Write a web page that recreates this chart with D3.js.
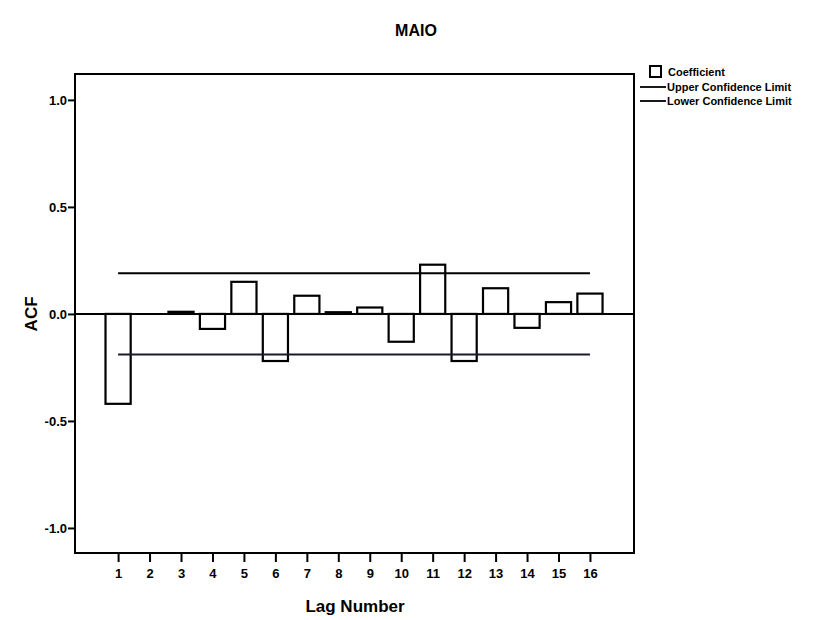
<!DOCTYPE html>
<html>
<head>
<meta charset="utf-8">
<script src="https://cdn.jsdelivr.net/npm/d3@7/dist/d3.min.js"></script>
<style>
  body { margin: 0; background: #fff; }
  text { font-family: "Liberation Sans", Arial, sans-serif; font-weight: bold; fill: #000; }
</style>
</head>
<body>
<svg id="canvas"></svg>
<script>
// ACF coefficients per lag
let lags = [1, 2, 3, 4, 5, 6, 7, 8, 9, 10, 11, 12, 13, 14, 15, 16]
let acf = [-0.42, 0.0, 0.01, -0.07, 0.15, -0.22, 0.085, 0.008, 0.03, -0.13, 0.23, -0.22, 0.12, -0.065, 0.055, 0.095]
let upperLimit = [0.19, 0.19, 0.19, 0.19, 0.19, 0.19, 0.19, 0.19, 0.19, 0.19, 0.19, 0.19, 0.19, 0.19, 0.19, 0.19]
let lowerLimit = [-0.19, -0.19, -0.19, -0.19, -0.19, -0.19, -0.19, -0.19, -0.19, -0.19, -0.19, -0.19, -0.19, -0.19, -0.19, -0.19]
let yTicks = [-1.0, -0.5, 0.0, 0.5, 1.0]
let legendItems = ["Coefficient", "Upper Confidence Limit", "Lower Confidence Limit"]

let width = 833, height = 620
let plotLeft = 75, plotRight = 634, plotTop = 74, plotBottom = 553

let svg = d3.select("#canvas")
    .attr("width", width)
    .attr("height", height)

let x = d3.scaleLinear().domain([-0.37, 17.4]).range([plotLeft, plotRight])
let y = d3.scaleLinear().domain([-1.117, 1.121]).range([plotBottom, plotTop])
let step = x(2) - x(1)
let barW = step * 0.8

// title
svg.append("text")
    .attr("x", 416).attr("y", 36)
    .attr("text-anchor", "middle")
    .style("font-size", "16px")
    .text("MAIO")

// frame
svg.append("rect")
    .attr("x", plotLeft).attr("y", plotTop)
    .attr("width", plotRight - plotLeft).attr("height", plotBottom - plotTop)
    .attr("fill", "none").attr("stroke", "#000").attr("stroke-width", 2)

// y axis
let yAxis = d3.axisLeft(y).tickValues(yTicks).tickSize(7).tickPadding(1)
let gy = svg.append("g").attr("transform", `translate(${plotLeft},0)`).call(yAxis)
gy.select(".domain").remove()
gy.selectAll(".tick line").attr("stroke", "#000").attr("stroke-width", 2)
gy.selectAll(".tick text")
    .style("font-size", "13px")
    .style("font-family", "Liberation Sans, Arial, sans-serif")
    .style("font-weight", "bold")
    .attr("fill", "#000")
    .text(d => d3.format(".1f")(d).replace("−", "-"))

// x axis
let xAxis = d3.axisBottom(x).tickValues(lags).tickSize(9).tickPadding(7)
let gx = svg.append("g").attr("transform", `translate(0,${plotBottom})`).call(xAxis)
gx.select(".domain").remove()
gx.selectAll(".tick line").attr("stroke", "#000").attr("stroke-width", 2)
gx.selectAll(".tick text")
    .style("font-size", "13px")
    .style("font-family", "Liberation Sans, Arial, sans-serif")
    .style("font-weight", "bold")
    .attr("fill", "#000")

// axis titles
svg.append("text")
    .attr("transform", `translate(37,${y(0)}) rotate(-90)`)
    .attr("text-anchor", "middle")
    .style("font-size", "17px")
    .text("ACF")

svg.append("text")
    .attr("x", 355).attr("y", 612)
    .attr("text-anchor", "middle")
    .style("font-size", "17px")
    .text("Lag Number")

// zero line
svg.append("line")
    .attr("x1", plotLeft).attr("x2", plotRight)
    .attr("y1", y(0)).attr("y2", y(0))
    .attr("stroke", "#000").attr("stroke-width", 2)

// bars
svg.append("g").selectAll("rect")
    .data(lags.map((l, i) => ({lag: l, v: acf[i]})))
    .enter().append("rect")
    .attr("x", d => x(d.lag) - barW / 2)
    .attr("width", barW)
    .attr("y", d => y(Math.max(0, d.v)))
    .attr("height", d => Math.abs(y(d.v) - y(0)))
    .attr("fill", "#fff")
    .attr("stroke", "#000")
    .attr("stroke-width", 2.2)

// confidence limits
let limLine = d3.line().x(d => x(d[0])).y(d => y(d[1]))
svg.append("path")
    .attr("d", limLine(lags.map((l, i) => [l, upperLimit[i]])))
    .attr("fill", "none").attr("stroke", "#000").attr("stroke-width", 2)
svg.append("path")
    .attr("d", limLine(lags.map((l, i) => [l, lowerLimit[i]])))
    .attr("fill", "none").attr("stroke", "#1a1a2e").attr("stroke-width", 2)

// legend
let lg = svg.append("g").attr("transform", "translate(640,66)")
lg.append("rect")
    .attr("x", 10).attr("y", 0).attr("width", 11).attr("height", 11)
    .attr("fill", "#fff").attr("stroke", "#000").attr("stroke-width", 2)
lg.append("text").attr("x", 28).attr("y", 10)
    .style("font-size", "11px").text(legendItems[0])
legendItems.slice(1).forEach((t, i) => {
    let yy = 21 + i * 14
    lg.append("line")
        .attr("x1", 0).attr("x2", 26).attr("y1", yy).attr("y2", yy)
        .attr("stroke", "#000").attr("stroke-width", 1.8)
    lg.append("text").attr("x", 27).attr("y", yy + 4)
        .style("font-size", "11px").text(t)
})
</script>
</body>
</html>
